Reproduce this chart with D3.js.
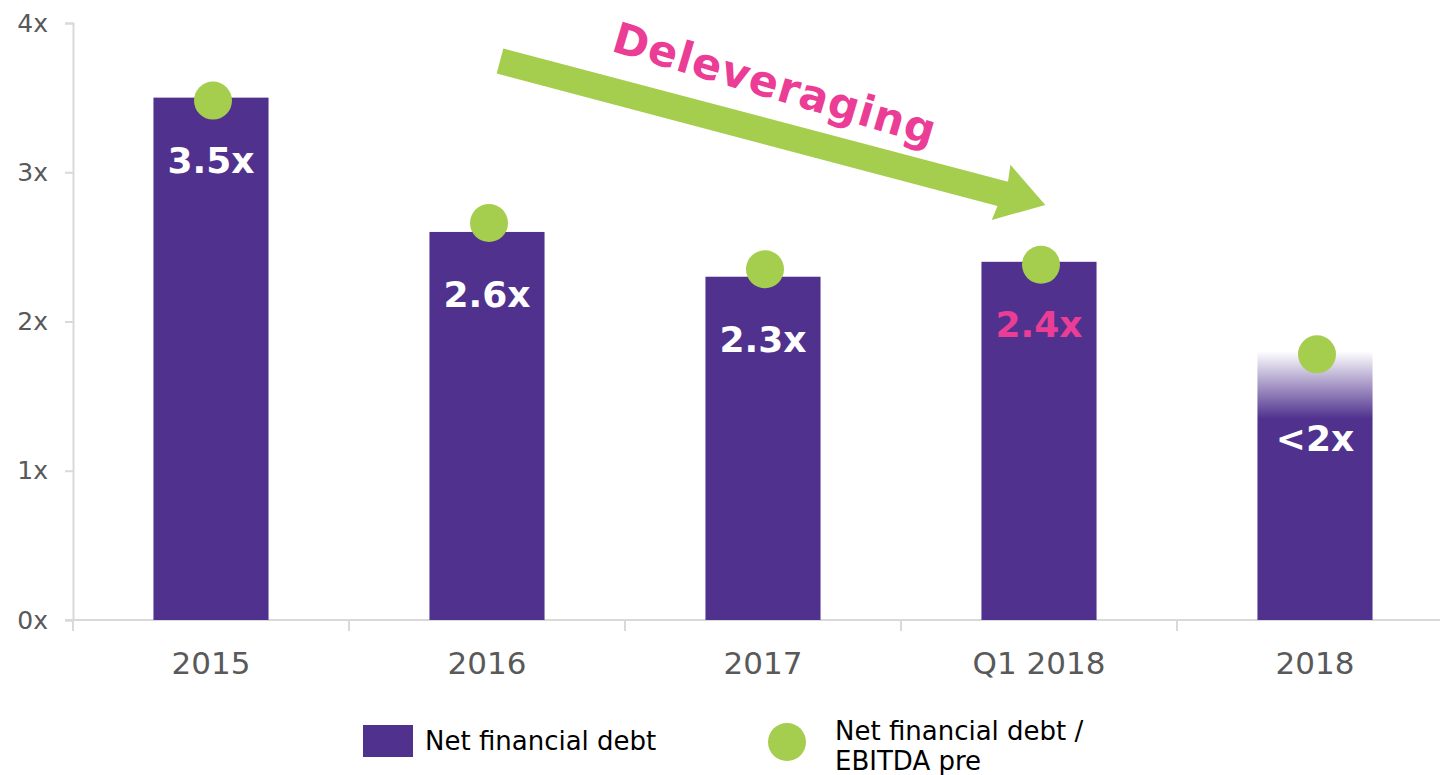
<!DOCTYPE html>
<html>
<head>
<meta charset="utf-8">
<script src="https://cdn.jsdelivr.net/npm/d3@7"></script>
<style>
  html, body { margin: 0; padding: 0; background: #fff; }
  svg { display: block; }
</style>
</head>
<body>
<script>
// chart values
const categories = ['2015', '2016', '2017', 'Q1 2018', '2018'];
const debtValues = [3.5, 2.6, 2.3, 2.4, 1.8];        // bar heights (x EBITDA)
const ratioValues = [3.48, 2.66, 2.35, 2.38, 1.78];  // green dots
const barLabels = ['3.5x', '2.6x', '2.3x', '2.4x', '<2x'];
const yTicks = [0, 1, 2, 3, 4];

const W = 1440, H = 775;
const margin = { top: 23, left: 73, bottom: 155 };
const purple = '#50328e', green = '#a5cd4e', pink = '#ec3d96', axisGrey = '#d9d9d9';

const svg = d3.select('body').append('svg')
    .attr('width', W)
    .attr('height', H);

const x = d3.scaleBand()
    .domain(categories)
    .range([margin.left, margin.left + 276 * categories.length])
    .paddingInner(0.583)
    .paddingOuter(0.2915);

const y = d3.scaleLinear()
    .domain([0, 4])
    .range([H - margin.bottom, margin.top]);

// gradient for the projected 2018 bar
const defs = svg.append('defs');
const grad = defs.append('linearGradient')
    .attr('id', 'fade')
    .attr('x1', 0).attr('y1', 0).attr('x2', 0).attr('y2', 1);
grad.append('stop').attr('offset', '0%').attr('stop-color', purple).attr('stop-opacity', 0);
grad.append('stop').attr('offset', '25%').attr('stop-color', purple).attr('stop-opacity', 1);
grad.append('stop').attr('offset', '100%').attr('stop-color', purple).attr('stop-opacity', 1);

// y axis
const yAxis = svg.append('g')
    .attr('transform', `translate(${margin.left},0)`)
    .call(d3.axisLeft(y).tickValues(yTicks).tickFormat(d => d + 'x').tickSize(8).tickPadding(17));
yAxis.select('.domain').attr('stroke', axisGrey).attr('stroke-width', 2);
yAxis.selectAll('.tick line').attr('stroke', axisGrey).attr('stroke-width', 2);
yAxis.selectAll('.tick text')
    .attr('fill', '#595959')
    .style('font-family', '"DejaVu Sans", Verdana, sans-serif')
    .style('font-size', '25px');

// x axis
const xAxisG = svg.append('g').attr('transform', `translate(0,${y(0)})`);
xAxisG.append('line')
    .attr('x1', margin.left - 8).attr('x2', W)
    .attr('stroke', axisGrey).attr('stroke-width', 2);
const bounds = d3.range(categories.length + 1).map(i => margin.left + x.step() * i);
xAxisG.selectAll('.xtick')
    .data(bounds)
    .enter().append('line')
    .attr('class', 'xtick')
    .attr('x1', d => d).attr('x2', d => d)
    .attr('y1', 0).attr('y2', 11)
    .attr('stroke', axisGrey).attr('stroke-width', 2);
xAxisG.selectAll('.xlabel')
    .data(categories)
    .enter().append('text')
    .attr('class', 'xlabel')
    .attr('x', d => x(d) + x.bandwidth() / 2)
    .attr('y', 54)
    .attr('text-anchor', 'middle')
    .attr('fill', '#595959')
    .style('font-family', '"DejaVu Sans", Verdana, sans-serif')
    .style('font-size', '31px')
    .text(d => d);

// bars
svg.selectAll('.bar')
    .data(categories)
    .enter().append('rect')
    .attr('class', 'bar')
    .attr('x', d => x(d))
    .attr('width', x.bandwidth())
    .attr('y', (d, i) => y(debtValues[i]))
    .attr('height', (d, i) => y(0) - y(debtValues[i]))
    .attr('fill', (d, i) => i === categories.length - 1 ? 'url(#fade)' : purple);

// bar labels
svg.selectAll('.blabel')
    .data(categories)
    .enter().append('text')
    .attr('class', 'blabel')
    .attr('x', (d, i) => x(d) + x.bandwidth() / 2)
    .attr('y', (d, i) => y(debtValues[i]) + (i === categories.length - 1 ? 87 : 62))
    .attr('dy', '0.36em')
    .attr('text-anchor', 'middle')
    .attr('fill', (d, i) => i === 3 ? pink : '#fff')
    .style('font-family', '"DejaVu Sans", Verdana, sans-serif')
    .style('font-weight', 'bold')
    .style('font-size', '36px')
    .text((d, i) => barLabels[i]);

// ratio dots
svg.selectAll('.dot')
    .data(categories)
    .enter().append('circle')
    .attr('class', 'dot')
    .attr('cx', d => x(d) + x.bandwidth() / 2 + 2)
    .attr('cy', (d, i) => y(ratioValues[i]))
    .attr('r', 19)
    .attr('fill', green);

// deleveraging arrow
const arrow = svg.append('g')
    .attr('transform', 'translate(500,61) rotate(14.8)');
arrow.append('path')
    .attr('d', 'M0,-13 L522,-13 L520,-30 L564,0 L516,28 L518,13 L0,13 Z')
    .attr('fill', green);
svg.append('text')
    .attr('transform', 'translate(775,84) rotate(16.5)')
    .attr('text-anchor', 'middle')
    .attr('dy', '0.35em')
    .attr('fill', pink)
    .style('font-family', '"DejaVu Sans", sans-serif')
    .style('font-weight', 'bold')
    .style('font-size', '43px')
    .style('letter-spacing', '1px')
    .text('Deleveraging');

// legend
const legend = svg.append('g')
    .style('font-family', '"DejaVu Sans", Verdana, sans-serif')
    .style('font-size', '26px');
legend.append('rect')
    .attr('x', 363).attr('y', 725).attr('width', 50).attr('height', 32)
    .attr('fill', purple);
legend.append('text')
    .attr('x', 425).attr('y', 750)
    .attr('fill', '#000')
    .text('Net financial debt');
legend.append('circle')
    .attr('cx', 787).attr('cy', 742).attr('r', 19)
    .attr('fill', green);
legend.append('text')
    .attr('x', 835).attr('y', 740)
    .attr('fill', '#000')
    .text('Net financial debt /');
legend.append('text')
    .attr('x', 835).attr('y', 770)
    .attr('fill', '#000')
    .text('EBITDA pre');
</script>
</body>
</html>
